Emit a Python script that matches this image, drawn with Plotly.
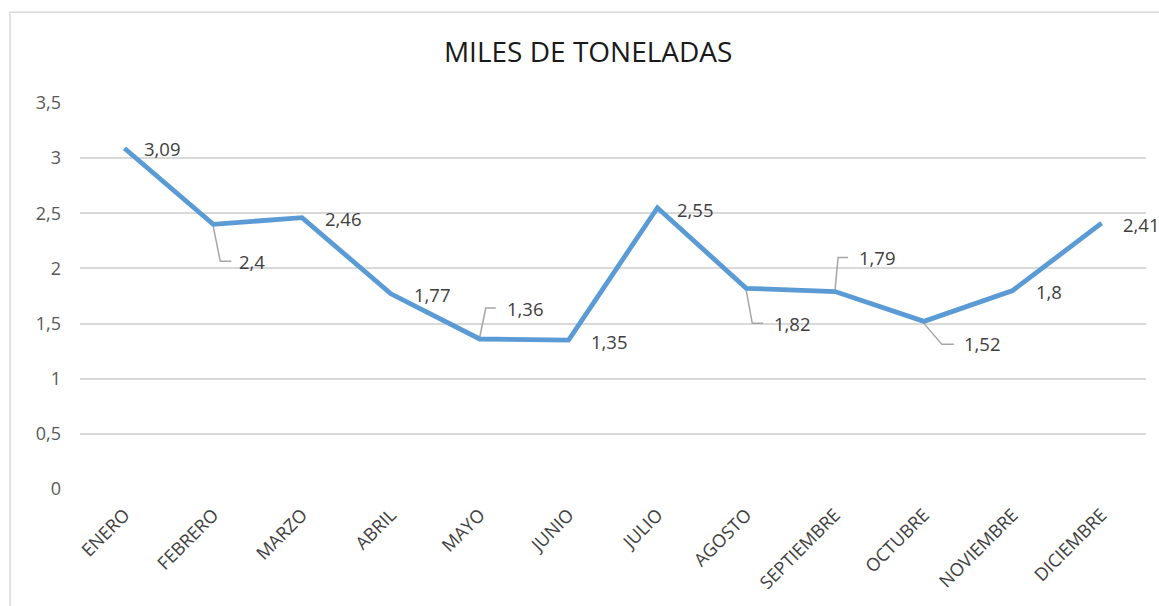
import plotly.graph_objects as go

# ---- data ----
months = ["ENERO", "FEBRERO", "MARZO", "ABRIL", "MAYO", "JUNIO", "JULIO",
          "AGOSTO", "SEPTIEMBRE", "OCTUBRE", "NOVIEMBRE", "DICIEMBRE"]
values = [3.09, 2.40, 2.46, 1.77, 1.36, 1.35, 2.55, 1.82, 1.79, 1.52, 1.80, 2.41]
value_labels = ["3,09", "2,4", "2,46", "1,77", "1,36", "1,35", "2,55",
                "1,82", "1,79", "1,52", "1,8", "2,41"]
y_ticks = [0, 0.5, 1, 1.5, 2, 2.5, 3, 3.5]
y_tick_text = ["0", "0,5", "1", "1,5", "2", "2,5", "3", "3,5"]
title_text = "MILES DE TONELADAS"

# ---- style: label offsets (px, yshift up positive) ----
label_dx = [18, 24, 21, 21, 25, 20, 18, 26, 22, 38, 21, 19]
label_dy = [0, -37, -1, -1, 31, -1, -2, -35, 34, -22, -1, -1]
# leader lines (pixel paths relative to point)
leaders = {1: [(0, -2), (7, -37), (18, -37)],
           4: [(0, 2), (6, 31), (16, 31)],
           7: [(0, -2), (6, -35), (17, -35)],
           8: [(0, 2), (3, 34), (13, 34)],
           9: [(0, -2), (18, -23), (30, -23)]}

FONT = "Open Sans"

fig = go.Figure()
fig.add_trace(go.Scatter(
    x=months, y=values, mode="lines",
    line=dict(color="#5B9BD5", width=4.8),
    hoverinfo="skip", showlegend=False))

annotations = []
for i, (m, v, t) in enumerate(zip(months, values, value_labels)):
    annotations.append(dict(
        x=m, y=v, xref="x", yref="y", text=t, showarrow=False,
        xanchor="left", yanchor="middle",
        xshift=label_dx[i], yshift=label_dy[i],
        font=dict(family=FONT, size=18.5, color="#404040")))

shapes = []
for i, pts in leaders.items():
    path = "M " + " L ".join(f"{px},{py}" for px, py in pts)
    shapes.append(dict(
        type="path", xref="x", yref="y",
        xsizemode="pixel", ysizemode="pixel",
        xanchor=months[i], yanchor=values[i],
        path=path, line=dict(color="#A6A6A6", width=1.5),
        layer="between"))

# chart-area frame
shapes.append(dict(type="rect", xref="paper", yref="paper",
                   x0=-0.0657, x1=1.2, y0=-0.6, y1=1.2354,
                   line=dict(color="#D9D9D9", width=1.5),
                   fillcolor="rgba(0,0,0,0)", layer="below"))

fig.update_layout(
    width=1159, height=606,
    margin=dict(l=80, r=13, t=103, b=117),
    paper_bgcolor="white", plot_bgcolor="white",
    title=dict(text=title_text, x=0.5075, xanchor="center",
               y=1 - 52 / 606, yanchor="middle",
               font=dict(family=FONT, size=28, color="#1a1a1a")),
    annotations=annotations,
    shapes=shapes,
)
fig.update_xaxes(
    type="category", tickangle=-45, showgrid=False, ticks="",
    showline=False, zeroline=False, ticklabelstandoff=11,
    tickfont=dict(family=FONT, size=18, color="#404040"),
    range=[-0.5, len(months) - 0.5])
fig.update_yaxes(
    range=[0, 3.5], tickvals=y_ticks, ticktext=y_tick_text,
    showgrid=True, gridcolor="#D9D9D9", gridwidth=1.5,
    zeroline=False, showline=False, ticks="",
    ticklabelstandoff=18,
    tickfont=dict(family=FONT, size=18, color="#595959"))

fig.write_html("out.html", config={"displayModeBar": False},
               post_script="document.body.style.margin='0px';")
